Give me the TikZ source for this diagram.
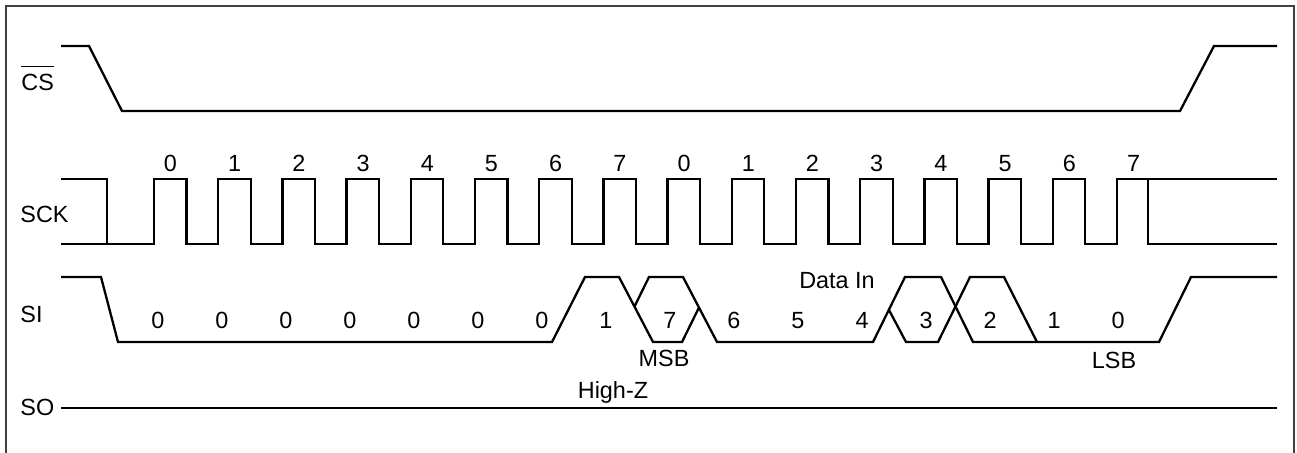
\documentclass[tikz,border=0pt]{standalone}
\usepackage{fontspec}
\setmainfont{Liberation Sans}
\usetikzlibrary{positioning}

\begin{document}
\begin{tikzpicture}[x=0.5pt,y=-0.5pt,
    signal/.style={line width=1.15pt,line join=miter},
    frame/.style={line width=0.75pt,draw=black!75},
    tag/.style={font=\fontsize{11.7}{13}\selectfont,inner sep=0pt,anchor=base},
    signame/.style={tag,anchor=base west},
    bit/.style={tag}
  ]
    \useasboundingbox (0,0) rectangle (1297,452);
    \draw[frame] (6,470) -- (6,6) -- (1294,6) -- (1294,470);

    % signal names
    \node[signame] (cs)  at (21,90)  {CS};
    \draw[line width=0.65pt] ([yshift=3.4pt]cs.north west) -- ([yshift=3.4pt]cs.north east);
    \node[signame] (sck) at (20,222) {SCK};
    \node[signame] (si)  at (20,322) {SI};
    \node[signame] (so)  at (20,415) {SO};

    % CS
    \draw[signal] (61,46) -- (89,46) -- (122,111) -- (1180,111) -- (1214,46) -- (1277,46);

    % SCK
    \draw[signal] (61,179) -- (107,179) -- (107,244)
      \foreach \k in {0,...,14}{
        -- ({154+64.2*\k},244) -- ({154+64.2*\k},179)
        -- ({186.5+64.2*\k},179) -- ({186.5+64.2*\k},244)
      }
      -- (1117,244) -- (1117,179) -- (1277,179);
    \draw[signal] (61,244) -- (107,244);
    \draw[signal] (1148,179) -- (1148,244) -- (1277,244);
    \foreach \k in {0,...,15}{
      \pgfmathtruncatemacro\clk{mod(\k,8)}
      \node[bit] (clk\k) at ({170.5+64.2*\k},171) {\clk};
    }

    % SI
    \draw[signal] (61,277) -- (101,277) -- (118,342) -- (552,342) -- (585,277)
      -- (619,277) -- (653,342) -- (682,342) -- (699,307.5);
    \draw[signal] (634.5,306.5) -- (649,277) -- (683,277) -- (717,342) -- (873,342)
      -- (905,277) -- (941,277) -- (973,342) -- (1159,342) -- (1191,277) -- (1277,277);
    \draw[signal] (889,310) -- (906,342) -- (938,342) -- (970,277) -- (1004,277) -- (1037,342);
    \foreach \b [count=\i from 0] in {0,0,0,0,0,0,0,1,7,6,5,4,3,2,1,0}{
      \node[bit] (bit\i) at ({158+64*\i},328) {\b};
    }
    \node[tag] (datain) at (837,288) {Data In};
    \node[tag] (msb) at (664,366) {MSB};
    \node[tag] (lsb) at (1114,368) {LSB};

    % SO
    \draw[signal] (61,408) -- (1277,408);
    \node[tag] (highz) at (613,398) {High-Z};
\end{tikzpicture}
\end{document}
